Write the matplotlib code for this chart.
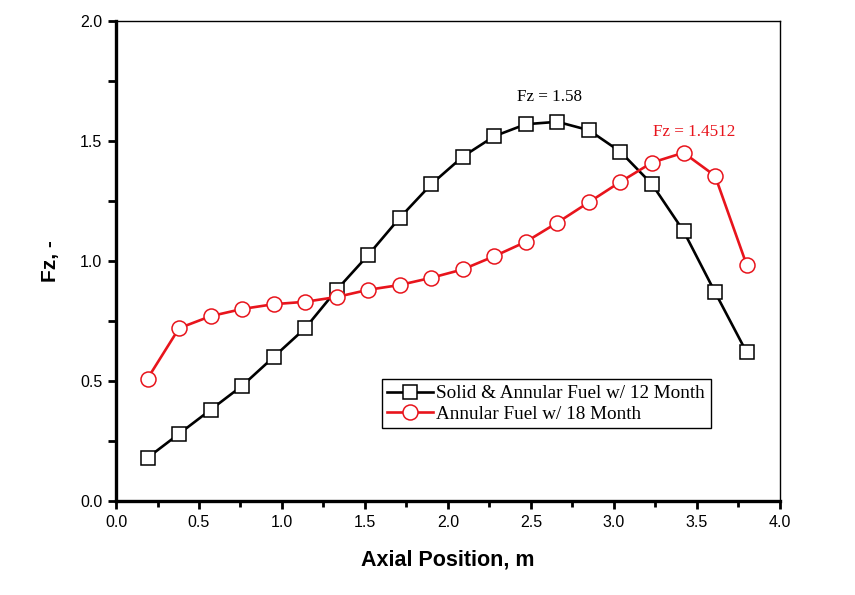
import matplotlib
matplotlib.use("Agg")
import matplotlib.pyplot as plt
from matplotlib.ticker import MultipleLocator

x = [0.19, 0.38, 0.57, 0.76, 0.95, 1.14, 1.33, 1.52, 1.71, 1.90,
     2.09, 2.28, 2.47, 2.66, 2.85, 3.04, 3.23, 3.42, 3.61, 3.80]
solid_12 = [0.18, 0.28, 0.38, 0.48, 0.60, 0.72, 0.88, 1.025, 1.18, 1.32,
            1.435, 1.52, 1.57, 1.58, 1.545, 1.455, 1.32, 1.125, 0.87, 0.62]
annular_18 = [0.51, 0.72, 0.77, 0.80, 0.82, 0.83, 0.85, 0.88, 0.90, 0.93,
              0.965, 1.02, 1.08, 1.16, 1.245, 1.33, 1.41, 1.4512, 1.355, 0.985]
labels = ["Solid & Annular Fuel w/ 12 Month", "Annular Fuel w/ 18 Month"]

fig = plt.figure(figsize=(8.55, 5.95), dpi=100)
ax = fig.add_axes([0.1357, 0.158, 0.912 - 0.1357, 0.9647 - 0.158])

ax.plot(x, solid_12, color="black", lw=1.9, marker="s", ms=9.5,
        mfc="white", mec="black", mew=1.1, label=labels[0], zorder=3)
ax.plot(x, annular_18, color="#e8141c", lw=1.9, marker="o", ms=10.8,
        mfc="white", mec="#e8141c", mew=1.1, label=labels[1], zorder=3)

ax.set_xlim(0, 4.0)
ax.set_ylim(0, 2.0)
ax.xaxis.set_major_locator(MultipleLocator(0.5))
ax.xaxis.set_minor_locator(MultipleLocator(0.25))
ax.yaxis.set_major_locator(MultipleLocator(0.5))
ax.yaxis.set_minor_locator(MultipleLocator(0.25))
ax.tick_params(which="major", direction="out", length=6, width=2.0,
               labelsize=11.5, pad=4)
ax.tick_params(axis="x", which="minor", direction="out", length=4, width=2.0)
ax.tick_params(axis="y", which="minor", direction="out", length=6, width=2.0)
for lab in ax.get_xticklabels() + ax.get_yticklabels():
    lab.set_family("Liberation Sans")

ax.spines["left"].set_linewidth(2.4)
ax.spines["bottom"].set_linewidth(2.4)
ax.spines["top"].set_linewidth(1.0)
ax.spines["right"].set_linewidth(1.0)

ax.set_xlabel("Axial Position, m", fontsize=15.5, fontweight="bold",
              family="Liberation Sans", labelpad=14)
ax.set_ylabel("Fz, -", fontsize=15, fontweight="bold",
              family="Liberation Sans", labelpad=14)

ax.text(2.614, 1.683, "Fz = 1.58", fontsize=12.3, family="Liberation Serif",
        color="black", ha="center", va="center")
ax.text(3.482, 1.5375, "Fz = 1.4512", fontsize=12.3, family="Liberation Serif",
        color="#e8141c", ha="center", va="center")

leg = ax.legend(loc="upper left", bbox_to_anchor=(0.40, 0.254),
                prop={"family": "Liberation Serif", "size": 13.8},
                frameon=True, fancybox=False, edgecolor="black",
                framealpha=1.0,
                handlelength=2.4, handletextpad=0.15, borderpad=0.3,
                labelspacing=0.15, borderaxespad=0)
leg.get_frame().set_linewidth(1.0)

fig.savefig("out.png", dpi=100)
